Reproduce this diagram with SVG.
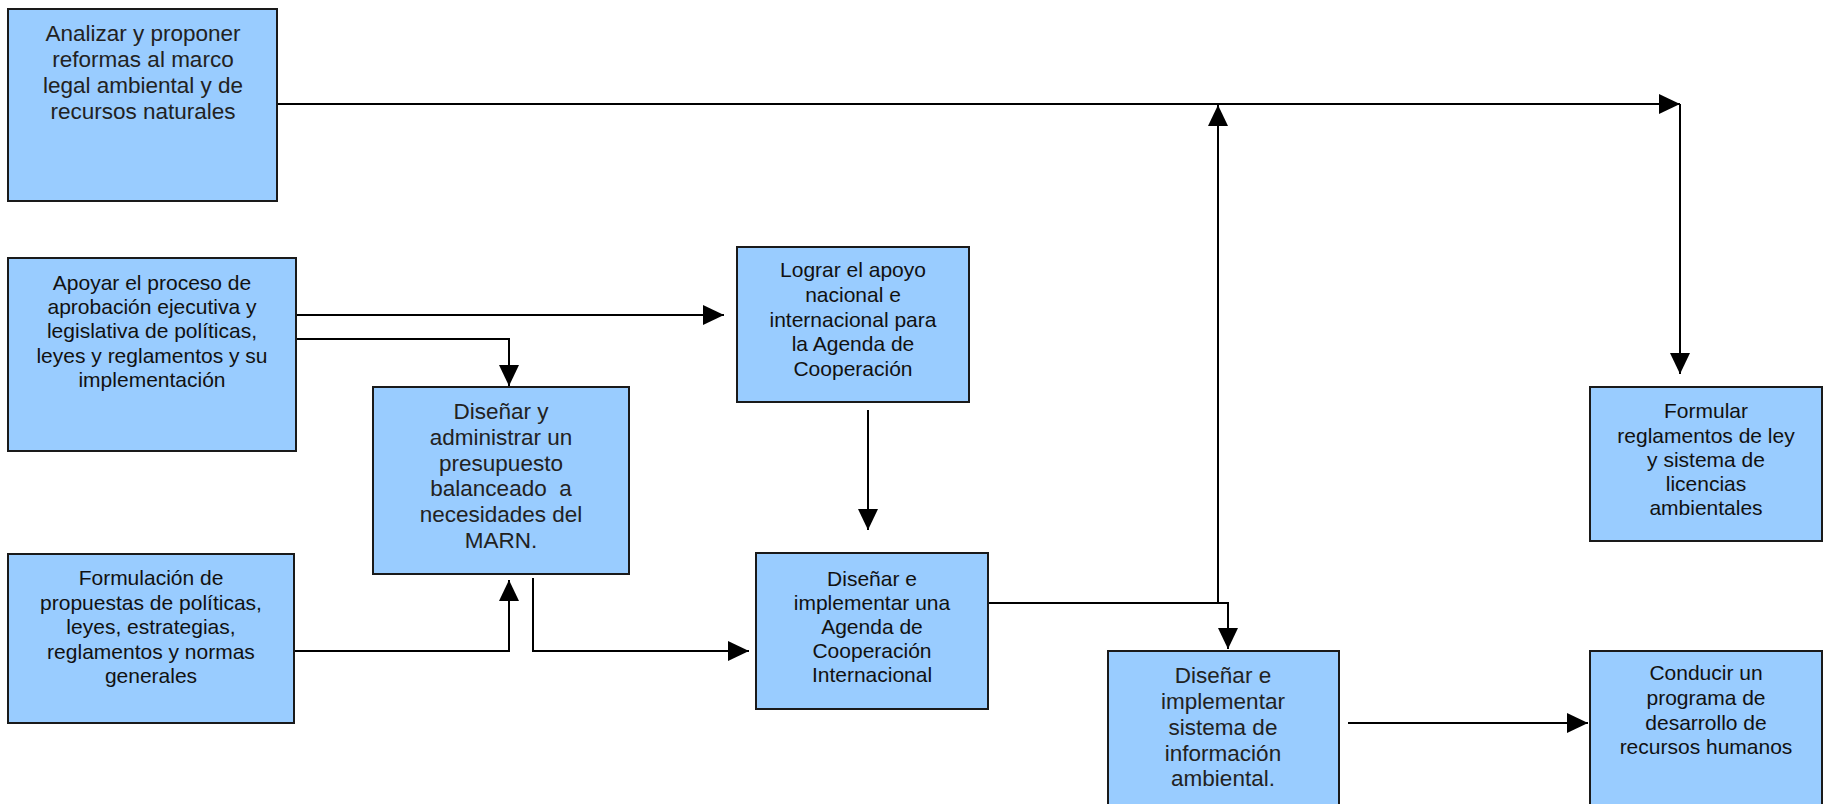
<svg xmlns="http://www.w3.org/2000/svg" width="1824" height="804" viewBox="0 0 1824 804">
<style>
.box{fill:#99CCFF;stroke:#1a1a1a;stroke-width:2}
.t{font-family:"Liberation Sans",Arial,sans-serif;font-size:21px;fill:#111;text-anchor:middle}
.c{font-family:"Liberation Sans",Arial,sans-serif;font-size:22.5px;fill:#222;text-anchor:middle}
.ln{fill:none;stroke:#000;stroke-width:2}
</style>
<defs>
<marker id="ah" markerUnits="userSpaceOnUse" markerWidth="22" markerHeight="20" refX="21" refY="10" orient="auto" viewBox="0 0 22 20">
<path d="M0,0 L21,10 L0,20 z" fill="#000"/>
</marker>
</defs>
<rect width="1824" height="804" fill="#fff"/>
<g id="connectors">
<path class="ln" d="M277,104 H1680" marker-end="url(#ah)"/>
<path class="ln" d="M1680,104 V374" marker-end="url(#ah)"/>
<path class="ln" d="M292,315 H724" marker-end="url(#ah)"/>
<path class="ln" d="M292,339 H509 V386" marker-end="url(#ah)"/>
<path class="ln" d="M294,651 H509 V580" marker-end="url(#ah)"/>
<path class="ln" d="M533,578 V651 H749" marker-end="url(#ah)"/>
<path class="ln" d="M868,410 V530" marker-end="url(#ah)"/>
<path class="ln" d="M988,603 H1228 V649" marker-end="url(#ah)"/>
<path class="ln" d="M1218,604 V105" marker-end="url(#ah)"/>
<path class="ln" d="M1348,723 H1588" marker-end="url(#ah)"/>
</g>
<g id="n1">
<rect class="box" x="8" y="9" width="269" height="192"/>
<text class="c" x="143"><tspan x="143" y="41">Analizar y proponer</tspan><tspan x="143" y="67">reformas al marco</tspan><tspan x="143" y="93">legal ambiental y de</tspan><tspan x="143" y="119">recursos naturales</tspan></text>
</g>
<g id="n2">
<rect class="box" x="8" y="258" width="288" height="193"/>
<text class="t"><tspan x="152" y="290">Apoyar el proceso de</tspan><tspan x="152" y="314">aprobación ejecutiva y</tspan><tspan x="152" y="338">legislativa de políticas,</tspan><tspan x="152" y="363">leyes y reglamentos y su</tspan><tspan x="152" y="387">implementación</tspan></text>
</g>
<g id="n3">
<rect class="box" x="373" y="387" width="256" height="187"/>
<text class="c" style="white-space:pre"><tspan x="501" y="419">Diseñar y</tspan><tspan x="501" y="445">administrar un</tspan><tspan x="501" y="471">presupuesto</tspan><tspan x="501" y="496">balanceado  a</tspan><tspan x="501" y="522">necesidades del</tspan><tspan x="501" y="548">MARN.</tspan></text>
</g>
<g id="n4">
<rect class="box" x="8" y="554" width="286" height="169"/>
<text class="t"><tspan x="151" y="585">Formulación de</tspan><tspan x="151" y="610">propuestas de políticas,</tspan><tspan x="151" y="634">leyes, estrategias,</tspan><tspan x="151" y="659">reglamentos y normas</tspan><tspan x="151" y="683">generales</tspan></text>
</g>
<g id="n5">
<rect class="box" x="737" y="247" width="232" height="155"/>
<text class="t"><tspan x="853" y="277">Lograr el apoyo</tspan><tspan x="853" y="302">nacional e</tspan><tspan x="853" y="327">internacional para</tspan><tspan x="853" y="351">la Agenda de</tspan><tspan x="853" y="376">Cooperación</tspan></text>
</g>
<g id="n6">
<rect class="box" x="756" y="553" width="232" height="156"/>
<text class="t"><tspan x="872" y="586">Diseñar e</tspan><tspan x="872" y="610">implementar una</tspan><tspan x="872" y="634">Agenda de</tspan><tspan x="872" y="658">Cooperación</tspan><tspan x="872" y="682">Internacional</tspan></text>
</g>
<g id="n7">
<rect class="box" x="1108" y="651" width="231" height="165"/>
<text class="c"><tspan x="1223" y="683">Diseñar e</tspan><tspan x="1223" y="709">implementar</tspan><tspan x="1223" y="735">sistema de</tspan><tspan x="1223" y="761">información</tspan><tspan x="1223" y="786">ambiental.</tspan></text>
</g>
<g id="n8">
<rect class="box" x="1590" y="651" width="232" height="165"/>
<text class="t"><tspan x="1706" y="680">Conducir un</tspan><tspan x="1706" y="705">programa de</tspan><tspan x="1706" y="730">desarrollo de</tspan><tspan x="1706" y="754">recursos humanos</tspan></text>
</g>
<g id="n9">
<rect class="box" x="1590" y="387" width="232" height="154"/>
<text class="t"><tspan x="1706" y="418">Formular</tspan><tspan x="1706" y="443">reglamentos de ley</tspan><tspan x="1706" y="467">y sistema de</tspan><tspan x="1706" y="491">licencias</tspan><tspan x="1706" y="515">ambientales</tspan></text>
</g>
</svg>
